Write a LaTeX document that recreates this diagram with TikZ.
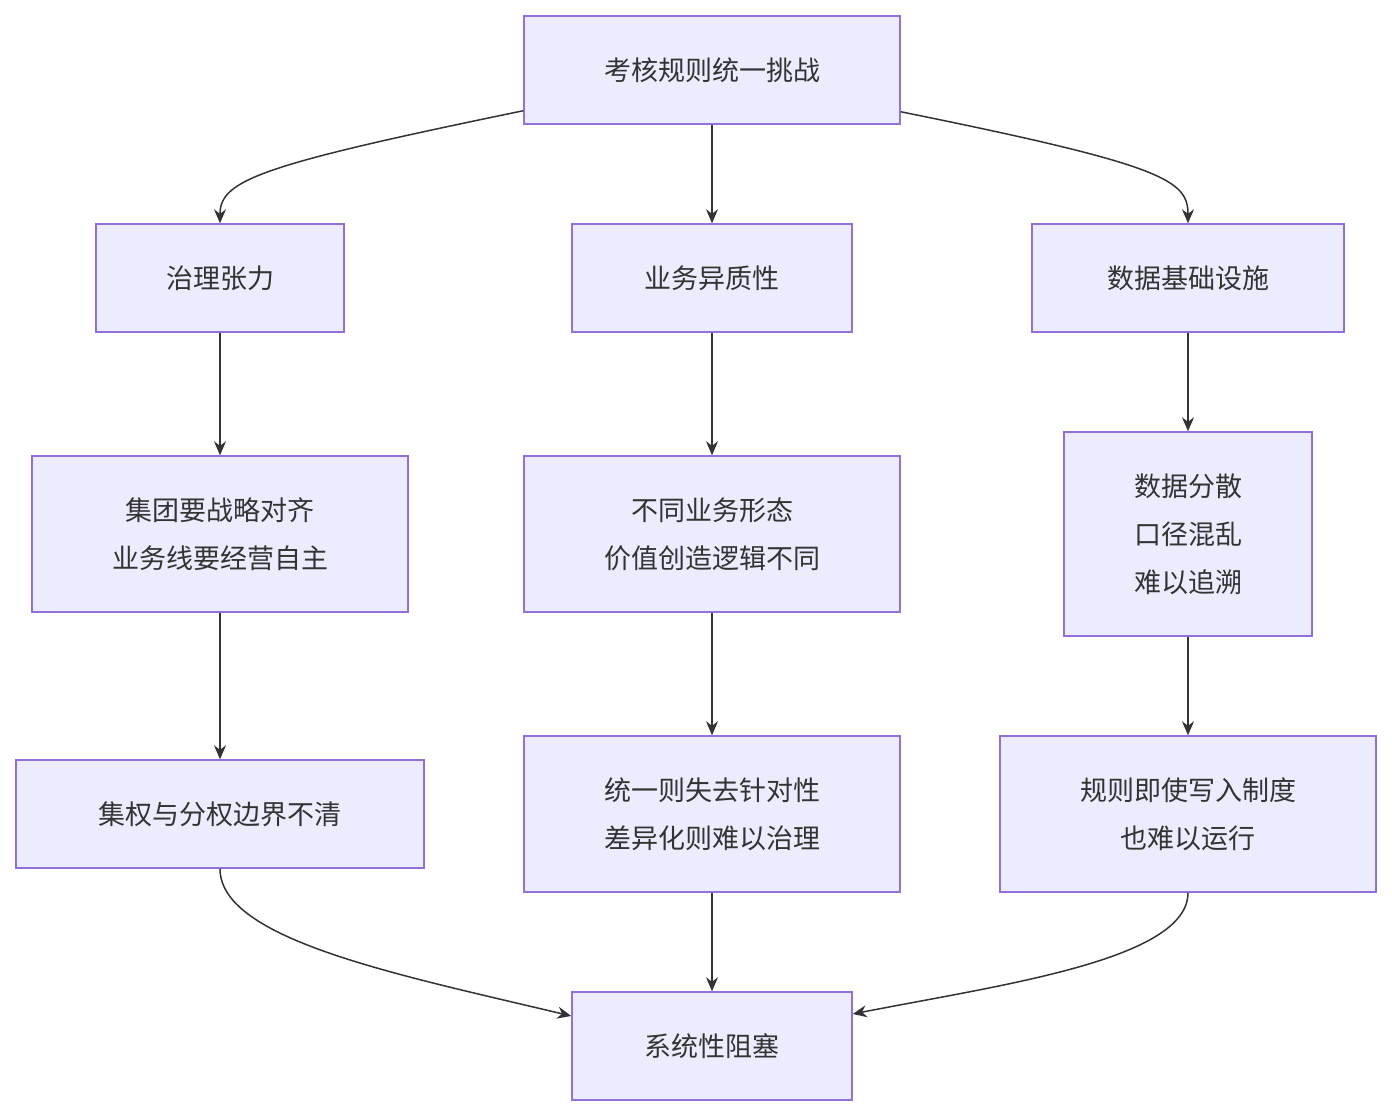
\documentclass[tikz,border=0pt]{standalone}
\usepackage{fontspec}
\setmainfont{Noto Sans CJK SC}
\usetikzlibrary{arrows.meta}
\definecolor{boxfill}{HTML}{ECECFF}
\definecolor{boxline}{HTML}{9370DB}
\definecolor{ink}{HTML}{333333}
\begin{document}
\begin{tikzpicture}[x=1pt,y=-1pt,
	box/.style={draw=boxline,fill=boxfill,line width=1.5pt,text=ink,align=center,inner sep=0pt,
		font=\fontsize{27}{48}\selectfont,minimum height=108pt},
	link/.style={draw=ink,line width=1.5pt,-{Stealth[length=14pt,width=12pt]}}]

	\useasboundingbox (0,0) rectangle (1392,1116);

	\node[box,minimum width=376pt] (top) at (712,70) {考核规则统一挑战};
	\node[box,minimum width=248pt] (gov) at (220,278) {治理张力};
	\node[box,minimum width=280pt] (biz) at (712,278) {业务异质性};
	\node[box,minimum width=312pt] (data) at (1188,278) {数据基础设施};
	\node[box,minimum width=376pt,minimum height=156pt] (align) at (220,534) {集团要战略对齐\\业务线要经营自主};
	\node[box,minimum width=376pt,minimum height=156pt] (form) at (712,534) {不同业务形态\\价值创造逻辑不同};
	\node[box,minimum width=248pt,minimum height=204pt] (spread) at (1188,534) {数据分散\\口径混乱\\难以追溯};
	\node[box,minimum width=408pt] (bound) at (220,814) {集权与分权边界不清};
	\node[box,minimum width=376pt,minimum height=156pt] (unify) at (712,814) {统一则失去针对性\\差异化则难以治理};
	\node[box,minimum width=376pt,minimum height=156pt] (rule) at (1188,814) {规则即使写入制度\\也难以运行};
	\node[box,minimum width=280pt] (block) at (712,1046) {系统性阻塞};

	\path[link] ([yshift=14pt]top.south west) .. controls (260,165) and (220,180) .. (gov.north);
	\path[link] (top) -- (biz);
	\path[link] ([yshift=13pt]top.south east) .. controls (1164,165) and (1188,180) .. (data.north);
	\path[link] (gov) -- (align);
	\path[link] (biz) -- (form);
	\path[link] (data) -- (spread);
	\path[link] (align) -- (bound);
	\path[link] (form) -- (unify);
	\path[link] (spread) -- (rule);
	\path[link] (bound.south) .. controls (220,940) and (400,975) .. ([yshift=30pt]block.west);
	\path[link] (unify) -- (block);
	\path[link] (rule.south) .. controls (1188,960) and (1000,985) .. ([yshift=32pt]block.east);

\end{tikzpicture}
\end{document}
